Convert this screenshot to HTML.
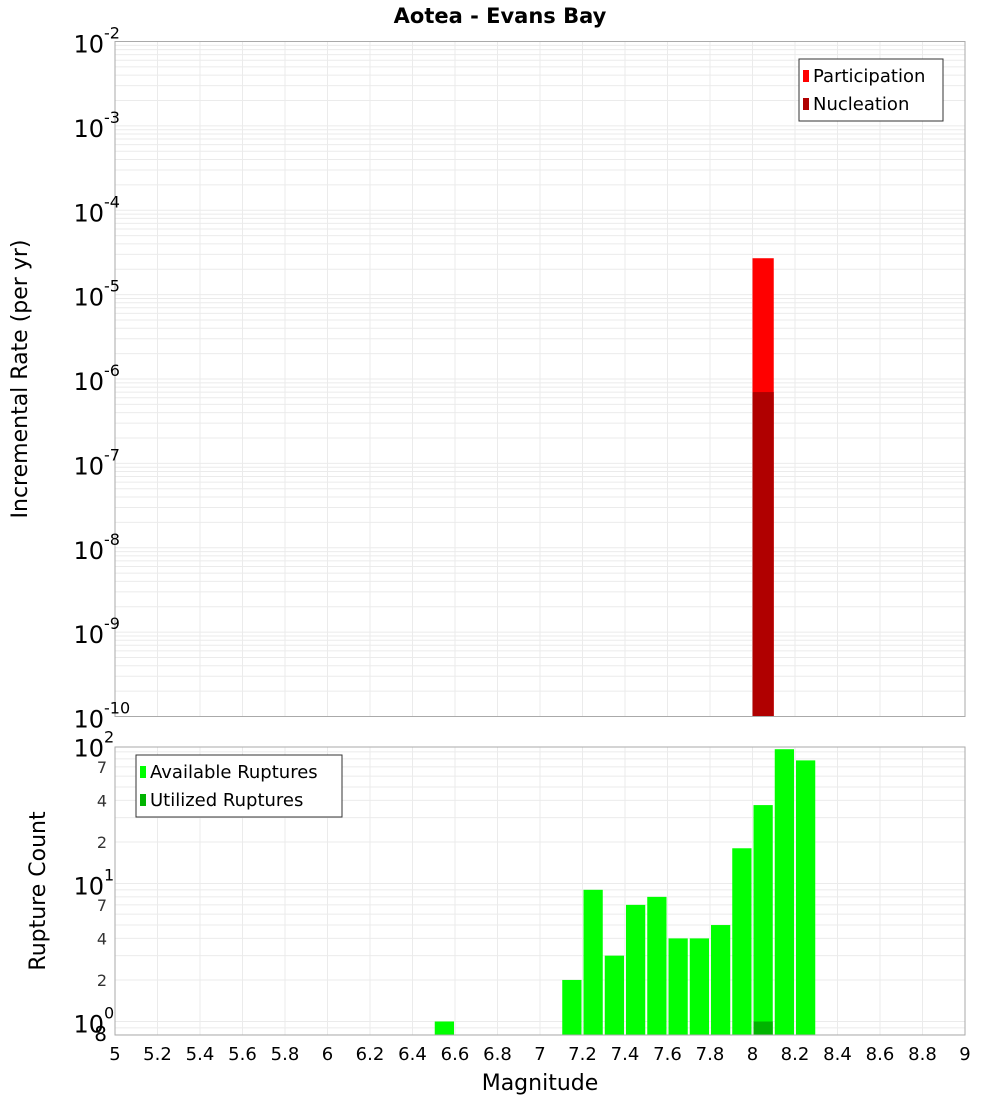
<!DOCTYPE html>
<html><head><meta charset="utf-8"><style>
body{margin:0;background:#fff;font-family:"DejaVu Sans","Liberation Sans",sans-serif}
</style></head><body>
<svg id="c" width="1000" height="1100" xmlns="http://www.w3.org/2000/svg" font-family="DejaVu Sans, Liberation Sans, sans-serif">
<text x="500" y="23" text-anchor="middle" font-size="21" font-weight="bold">Aotea - Evans Bay</text>
<g id="topg"></g><g id="botg"></g>
<text transform="translate(27,379) rotate(-90)" text-anchor="middle" font-size="22">Incremental Rate (per yr)</text>
<text transform="translate(45,891) rotate(-90)" text-anchor="middle" font-size="22">Rupture Count</text>
<text x="540" y="1090" text-anchor="middle" font-size="22">Magnitude</text>
</svg>
<script>
const rateBins=[8.05];
const participation=[2.7e-5];
const nucleation=[7e-7];
const countBins=[6.55,7.15,7.25,7.35,7.45,7.55,7.65,7.75,7.85,7.95,8.05,8.15,8.25];
const available=[1,2,9,3,7,8,4,4,5,18,37,94,78];
const utilizedBins=[8.05];
const utilized=[1];
const xTicks=[5,5.2,5.4,5.6,5.8,6,6.2,6.4,6.6,6.8,7,7.2,7.4,7.6,7.8,8,8.2,8.4,8.6,8.8,9];
const NS="http://www.w3.org/2000/svg";
const L=115,R=965;
const X=v=>L+(v-5)/4*(R-L);
const T0=41.5,T1=716.5;
const YT=v=>T1-(Math.log10(v)+10)/8*(T1-T0);
const B0=747,B1=1035;
const YB=v=>1021.5-Math.log10(v)*138;
function el(p,t,a,txt){const e=document.createElementNS(NS,t);for(const k in a)e.setAttribute(k,a[k]);if(txt!==undefined)e.textContent=txt;p.appendChild(e);return e;}
const gTop=document.getElementById('topg'),gBot=document.getElementById('botg');
function grid(g,y0,y1,yf,dmin,dmax,name){
 for(let d=dmin;d<=dmax;d++)for(let m=1;m<10;m++){const v=m*Math.pow(10,d);const y=yf(v);if(y<y0-0.5||y>y1+0.5)continue;
  const ln=el(g,'line',{x1:L,x2:R,y1:y,y2:y,stroke:'#ebebeb','stroke-width':1});
  }
 for(const t of xTicks){const ln=el(g,'line',{x1:X(t),x2:X(t),y1:y0,y2:y1,stroke:'#ebebeb','stroke-width':1});
  }
}
grid(gTop,T0,T1,YT,-10,-2,'top');
grid(gBot,B0,B1,YB,-1,2,'bottom');
rateBins.forEach((b,i)=>{
 let r=el(gTop,'rect',{x:X(b-0.05),y:YT(participation[i]),width:X(b+0.05)-X(b-0.05),height:T1-YT(participation[i]),fill:'#ff0000'});
 
 r=el(gTop,'rect',{x:X(b-0.05),y:YT(nucleation[i]),width:X(b+0.05)-X(b-0.05),height:T1-YT(nucleation[i]),fill:'#b00000'});
 
});
countBins.forEach((b,i)=>{
 const y=YB(available[i]);
 const r=el(gBot,'rect',{x:X(b-0.05)+1,y:y,width:X(b+0.05)-X(b-0.05)-2,height:B1-y,fill:'#00ff00'});
 
});
utilizedBins.forEach((b,i)=>{
 const y=YB(utilized[i]);
 const r=el(gBot,'rect',{x:X(b-0.05)+1,y:y,width:X(b+0.05)-X(b-0.05)-2,height:B1-y,fill:'#00b400'});
 
});
let f=el(gTop,'rect',{x:L,y:T0,width:R-L,height:T1-T0,fill:'none',stroke:'#aaa'});

f=el(gBot,'rect',{x:L,y:B0,width:R-L,height:B1-B0,fill:'none',stroke:'#aaa'});

for(let d=-10;d<=-2;d++){const y=YT(Math.pow(10,d));
 const t=el(gTop,'text',{x:104,y:y+11,'text-anchor':'end','font-size':24},'10');
 
 const s=el(gTop,'text',{x:104,y:y-3,'text-anchor':'start','font-size':16},String(d));
 }
for(let d=0;d<=2;d++){const y=YB(Math.pow(10,d));
 const t=el(gBot,'text',{x:104,y:y+11,'text-anchor':'end','font-size':24},'10');
 
 const s=el(gBot,'text',{x:104,y:y-3,'font-size':16},String(d));
 
 if(d<2)for(const m of [2,4,7]){const mm=el(gBot,'text',{x:107,y:YB(m*Math.pow(10,d))+6,'text-anchor':'end','font-size':16,fill:'#333'},String(m));
  }
}
let e8=el(gBot,'text',{x:107,y:1041,'text-anchor':'end','font-size':20},'8');

xTicks.forEach(t=>{const tx=el(gBot,'text',{x:X(t),y:1060,'text-anchor':'middle','font-size':18},String(t));
 });
function legend(g,x,y,w,items,name){
 const b=el(g,'rect',{x:x,y:y,width:w,height:items.length*28+6,fill:'#fff',stroke:'#333'});
 
 items.forEach((it,i)=>{const yy=y+17+i*28;
  const sw=el(g,'rect',{x:x+4,y:yy-6,width:6,height:12,fill:it[1]});
  
  const tx=el(g,'text',{x:x+14,y:yy+6,'font-size':18},it[0]);
  });
}
legend(gTop,799,59,144,[['Participation','#ff0000'],['Nucleation','#b00000']],'top-legend');
legend(gBot,136,755,206,[['Available Ruptures','#00ff00'],['Utilized Ruptures','#00b400']],'bottom-legend');
</script>
</body></html>
